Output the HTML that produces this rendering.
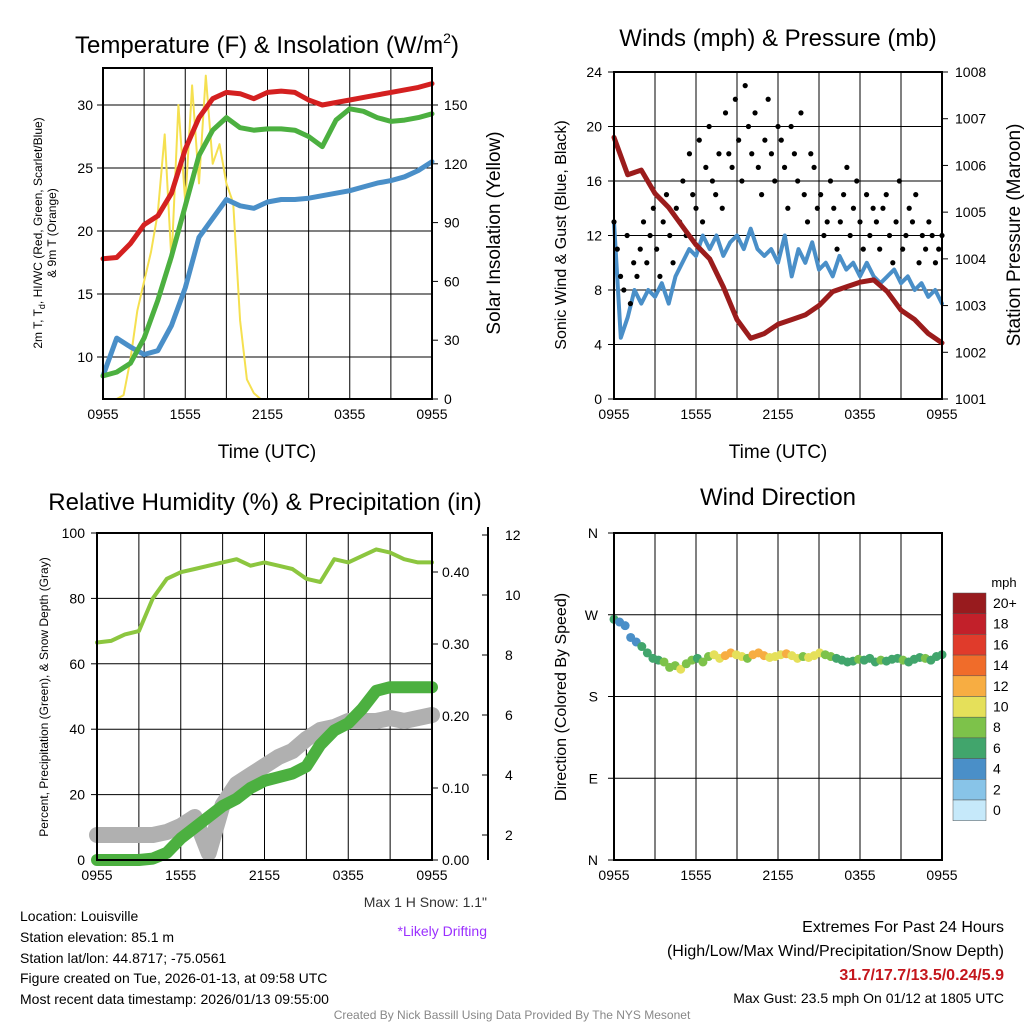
<!DOCTYPE html>
<html><head><meta charset="utf-8"><style>
body{margin:0;background:#fff;}
svg{display:block;font-family:"Liberation Sans",sans-serif;}
</style></head><body>
<svg id="c" width="1024" height="1024" viewBox="0 0 1024 1024"></svg>
<script>
// ---------- data ----------
const hours = ["0955","1555","2155","0355","0955"];
const tempRed = [17.8,17.9,19.0,20.5,21.2,23.0,26.5,29.0,30.5,31.0,30.9,30.5,31.0,31.1,31.0,30.4,30.0,30.2,30.4,30.6,30.8,31.0,31.2,31.4,31.7];
const tempGreen = [8.5,8.8,9.5,11.5,14.5,18.0,22.0,26.0,28.0,29.0,28.2,28.0,28.1,28.1,28.0,27.5,26.7,28.8,29.7,29.5,29.0,28.7,28.8,29.0,29.3];
const tempBlue = [8.5,11.5,10.8,10.2,10.5,12.5,15.5,19.5,21.0,22.5,22.0,21.8,22.3,22.5,22.5,22.6,22.8,23.0,23.2,23.5,23.8,24.0,24.3,24.8,25.5];
const solar = [0,0,0,2,20,45,60,75,95,135,70,150,100,160,110,165,120,130,110,100,40,10,3,0,0,0,0,0,0,0,0,0,0,0,0,0,0,0,0,0,0,0,0,0,0,0,0,0,0];
const gust = [13,11,9,8,12,7,10,9,11,13,10,12,14,11,9,13,15,12,10,14,13,16,12,18,15,14,19,13,17,20,16,15,18,14,21,18,17,22,19,16,23,20,18,21,17,15,19,22,18,16,20,19,17,14,20,18,16,21,15,13,18,17,14,15,12,13,16,14,11,13,15,17,12,14,16,13,11,15,12,14,13,11,14,15,12,10,13,16,11,12,14,13,15,10,12,11,13,12,10,11,12];
const wind = [13,4.5,6,8,7,8,7.5,8.5,7,9,10,11,10.5,12,11,12,10.5,11.5,12,11,12.5,11,10.5,11,10,12,9,11,10,11.5,9.5,10,9,10.5,9.5,10,9,10,9,8.5,9,9.5,8.5,9,8,8.5,7.5,8,7];
const pressure = [1006.6,1005.8,1005.9,1005.4,1005.1,1004.7,1004.3,1004.0,1003.4,1002.7,1002.3,1002.4,1002.6,1002.7,1002.8,1003.0,1003.3,1003.4,1003.5,1003.55,1003.3,1002.9,1002.7,1002.4,1002.2];
const rh = [66.5,67,69,70,80,86,88,89,90,91,92,90,91,90,89,86,85,92,91,93,95,94,92,91,91];
const precip = [0,0,0,0,0.002,0.01,0.03,0.045,0.06,0.075,0.085,0.10,0.11,0.115,0.12,0.13,0.16,0.18,0.19,0.21,0.235,0.24,0.24,0.24,0.24];
const snow = [2,2,2,2,2,2.1,2.3,2.6,1.4,3.0,3.7,4.0,4.3,4.6,4.8,5.2,5.5,5.6,5.8,5.8,5.8,5.9,5.8,5.9,6.0];
const dirDeg = [265,262,258,245,240,235,228,222,220,218,212,214,210,216,220,222,218,224,226,222,225,228,226,224,222,226,228,225,223,224,226,227,225,222,224,223,225,228,226,224,222,220,218,219,221,220,222,218,220,219,221,222,220,218,221,223,222,220,224,226];
const dirSpeed = [6,4,4,4,5,6,7,6,7,8,8,9,10,9,8,7,8,9,10,11,12,12,11,10,9,12,13,12,11,10,11,12,11,10,9,10,11,10,9,8,7,7,6,7,8,7,6,7,8,7,6,7,8,7,6,7,8,7,6,7];
const cbLabels = ["20+","18","16","14","12","10","8","6","4","2","0"];
const cbColors = ["#981b1e","#c2202a","#e03b2b","#f06c2a","#f7ad42","#e5e05a","#7dc24a","#41a56c","#4a8fc8","#88c4e8","#c6e9fa"];

const NS="http://www.w3.org/2000/svg";
const svg=document.getElementById('c');
function mk(tag,attrs,parent){const e=document.createElementNS(NS,tag);for(const k in attrs)e.setAttribute(k,attrs[k]);(parent||svg).appendChild(e);return e;}
function txt(s,x,y,size,anchor,parent,extra){const t=mk('text',Object.assign({x:x,y:y,'font-size':size,'text-anchor':anchor||'middle',fill:'#000'},extra||{}),parent);t.textContent=s;return t;}
function lin(d0,d1,r0,r1){return v=>r0+(v-d0)*(r1-r0)/(d1-d0);}

function panel(name,x0,x1,y0,y1,xTickLabels){
  const g=mk('g',{});
  
  
  const sx=lin(0,24,x0,x1);
  for(let h=0;h<=24;h+=3){mk('line',{x1:sx(h),x2:sx(h),y1:y0,y2:y1,stroke:'#000','stroke-width':1},g);}
  xTickLabels.forEach((l,i)=>{const t=txt(l,sx(i*6),y1+20,14,'middle',g);});
  return {g,sx};
}
function frame(g,x0,x1,y0,y1){mk('rect',{x:x0,y:y0,width:x1-x0,height:y1-y0,fill:'none',stroke:'#000','stroke-width':2},g);}
function path(g,xs,ys,color,w,name){const d=xs.map((x,i)=>(i?'L':'M')+x.toFixed(1)+','+ys[i].toFixed(1)).join('');const p=mk('path',{d:d,fill:'none',stroke:color,'stroke-width':w,'stroke-linejoin':'round','stroke-linecap':'round'},g);return p;}

// ---------- Panel 1 ----------
{
 const X0=103,X1=432,Y0=68,Y1=399;
 const {g,sx}=panel('temperature-panel',X0,X1,Y0,Y1,hours);
 const sy=lin(10,30,357,105), sr=lin(0,150,399,105);
 [10,15,20,25,30].forEach(v=>{mk('line',{x1:X0,x2:X1,y1:sy(v),y2:sy(v),stroke:'#000'},g);mk('line',{x1:X0-6,x2:X0,y1:sy(v),y2:sy(v),stroke:'#000'},g);txt(String(v),X0-10,sy(v)+5,14,'end',g);});
 [0,30,60,90,120,150].forEach(v=>{mk('line',{x1:X1,x2:X1+6,y1:sr(v),y2:sr(v),stroke:'#000'},g);txt(String(v),X1+12,sr(v)+5,14,'start',g);});
 const hx=tempRed.map((_,i)=>sx(i));
 path(g,solar.map((_,i)=>sx(i/2)),solar.map(sr),'#f5e050',2,'solar-line');
 path(g,hx,tempBlue.map(sy),'#4a8fc8',5,'scarlet-blue-line');
 path(g,hx,tempGreen.map(sy),'#4cb040',5,'dewpoint-green-line');
 path(g,hx,tempRed.map(sy),'#d42020',5,'temperature-red-line');
 frame(g,X0,X1,Y0,Y1);
 const t=txt('',267,53,24,'middle',g);t.innerHTML='Temperature (F) &amp; Insolation (W/m<tspan font-size="14" dy="-10">2</tspan><tspan dy="10">)</tspan>';
 
 txt('Time (UTC)',267,458,19,'middle',g);
 const yl=txt('',0,0,12,'middle',g,{transform:'translate(42,233) rotate(-90)'});yl.innerHTML='2m T, T<tspan font-size="9" dy="3">d</tspan><tspan dy="-3">, HI/WC (Red, Green, Scarlet/Blue)</tspan>';
 txt('& 9m T (Orange)',0,0,12,'middle',g,{transform:'translate(56,233) rotate(-90)'});
 txt('Solar Insolation (Yellow)',0,0,19,'middle',g,{transform:'translate(500,233) rotate(-90)'});
}
// ---------- Panel 2 ----------
{
 const X0=614,X1=942,Y0=72,Y1=399;
 const {g,sx}=panel('winds-panel',X0,X1,Y0,Y1,hours);
 const sy=lin(0,24,399,72), sr=lin(1001,1008,399,72);
 [0,4,8,12,16,20,24].forEach(v=>{mk('line',{x1:X0,x2:X1,y1:sy(v),y2:sy(v),stroke:'#000'},g);mk('line',{x1:X0-6,x2:X0,y1:sy(v),y2:sy(v),stroke:'#000'},g);txt(String(v),X0-12,sy(v)+5,14,'end',g);});
 [1001,1002,1003,1004,1005,1006,1007,1008].forEach(v=>{mk('line',{x1:X1,x2:X1+6,y1:sr(v),y2:sr(v),stroke:'#000'},g);txt(String(v),X1+13,sr(v)+5,14,'start',g);});
 path(g,wind.map((_,i)=>sx(i/2)),wind.map(sy),'#4a8fc8',4,'sonic-wind-line');
 gust.forEach((v,i)=>{const c=mk('circle',{cx:sx(24*i/(gust.length-1)),cy:sy(v),r:2.6,fill:'#000'},g);});
 path(g,pressure.map((_,i)=>sx(i)),pressure.map(sr),'#9b1c1c',5,'pressure-line');
 frame(g,X0,X1,Y0,Y1);
 txt('Winds (mph) & Pressure (mb)',778,46,24,'middle',g);
 txt('Time (UTC)',778,458,19,'middle',g);
 txt('Sonic Wind & Gust (Blue, Black)',0,0,16,'middle',g,{transform:'translate(566,235) rotate(-90)'});
 txt('Station Pressure (Maroon)',0,0,19,'middle',g,{transform:'translate(1020,235) rotate(-90)'});
}
// ---------- Panel 3 ----------
{
 const X0=97,X1=432,Y0=533,Y1=860;
 const {g,sx}=panel('humidity-panel',X0,X1,Y0,Y1,hours);
 const sy=lin(0,100,860,533), sp=lin(0,0.1,860,788), ss=lin(2,12,835,535);
 [0,20,40,60,80,100].forEach(v=>{mk('line',{x1:X0,x2:X1,y1:sy(v),y2:sy(v),stroke:'#000'},g);mk('line',{x1:X0-6,x2:X0,y1:sy(v),y2:sy(v),stroke:'#000'},g);txt(String(v),X0-12,sy(v)+5,14,'end',g);});
 ['0.00','0.10','0.20','0.30','0.40'].forEach(v=>{const y=sp(+v);mk('line',{x1:X1,x2:X1+6,y1:y,y2:y,stroke:'#000'},g);txt(v,X1+10,y+5,14,'start',g);});
 mk('line',{x1:488,x2:488,y1:527,y2:860,stroke:'#000','stroke-width':2},g);
 [2,4,6,8,10,12].forEach(v=>{mk('line',{x1:482,x2:488,y1:ss(v),y2:ss(v),stroke:'#000'},g);txt(String(v),505,ss(v)+5,14,'start',g);});
 const hx=rh.map((_,i)=>sx(i));
 path(g,hx,snow.map(ss),'#b0b0b0',16,'snow-depth-line');
 path(g,hx,precip.map(sp),'#4cb040',12,'precipitation-line');
 path(g,hx,rh.map(sy),'#8cc63f',4,'humidity-line');
 frame(g,X0,X1,Y0,Y1);
 txt('Relative Humidity (%) & Precipitation (in)',265,510,24,'middle',g);
 txt('Percent, Precipitation (Green), & Snow Depth (Gray)',0,0,12,'middle',g,{transform:'translate(48,697) rotate(-90)'});
 txt('Max 1 H Snow: 1.1"',487,907,14,'end',g,{fill:'#333'});
 txt('*Likely Drifting',487,936,14,'end',g,{fill:'#9b30ff'});
}
// ---------- Panel 4 ----------
{
 const X0=614,X1=942,Y0=533,Y1=860;
 const {g,sx}=panel('wind-direction-panel',X0,X1,Y0,Y1,hours);
 const sy=lin(0,360,860,533);
 [['N',0],['E',90],['S',180],['W',270],['N',360]].forEach(([l,v])=>{mk('line',{x1:X0,x2:X1,y1:sy(v),y2:sy(v),stroke:'#000'},g);mk('line',{x1:X0-6,x2:X0,y1:sy(v),y2:sy(v),stroke:'#000'},g);txt(l,X0-16,sy(v)+5,14,'end',g);});
 dirDeg.forEach((v,i)=>{const k=Math.min(10,Math.floor(dirSpeed[i]/2));const c=mk('circle',{cx:sx(24*i/(dirDeg.length-1)),cy:sy(v),r:4.5,fill:cbColors[10-k]},g);});
 frame(g,X0,X1,Y0,Y1);
 txt('Wind Direction',778,505,24,'middle',g);
 txt('Direction (Colored By Speed)',0,0,16,'middle',g,{transform:'translate(566,697) rotate(-90)'});
 const cb=mk('g',{},g);
 txt('mph',1004,587,13,'middle',cb);
 cbColors.forEach((c,i)=>{mk('rect',{x:953,y:593+i*20.7,width:33,height:20.7,fill:c,stroke:'#555','stroke-width':0.5},cb);txt(cbLabels[i],993,608+i*20.7,14,'start',cb);});
}
// ---------- footer ----------
const foot=[['Location: Louisville',921],['Station elevation: 85.1 m',942],['Station lat/lon: 44.8717; -75.0561',963],['Figure created on Tue, 2026-01-13, at 09:58 UTC',983],['Most recent data timestamp: 2026/01/13 09:55:00',1004]];
foot.forEach(([s,y])=>{const t=txt(s,20,y,14,'start');});
txt('Extremes For Past 24 Hours',1004,932,16,'end');
txt('(High/Low/Max Wind/Precipitation/Snow Depth)',1004,956,16,'end');
txt('31.7/17.7/13.5/0.24/5.9',1004,980,16,'end',null,{fill:'#c4161c','font-weight':'bold'});
txt('Max Gust: 23.5 mph On 01/12 at 1805 UTC',1004,1003,14,'end');
txt('Created By Nick Bassill Using Data Provided By The NYS Mesonet',512,1019,12,'middle',null,{fill:'#888'});
</script>
</body></html>
